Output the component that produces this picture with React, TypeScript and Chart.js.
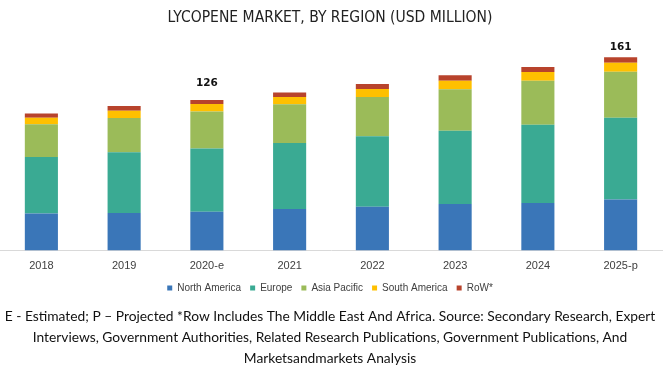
import React, { useEffect, useRef } from "react";
import { Chart, registerables } from "chart.js";

Chart.register(...registerables);

const categories = ["2018", "2019", "2020-e", "2021", "2022", "2023", "2024", "2025-p"];
const northAmerica = [30.8, 31.3, 32.4, 34.6, 36.6, 38.8, 39.6, 42.5];
const europe = [47.4, 50.9, 52.8, 55.3, 58.9, 61.2, 65.4, 68.4];
const asiaPacific = [27.4, 28.5, 31.0, 32.4, 32.9, 34.7, 36.9, 38.6];
const southAmerica = [5.3, 6.1, 6.2, 6.1, 6.5, 7.2, 7.3, 7.5];
const restOfWorld = [3.7, 3.9, 3.4, 3.7, 4.2, 4.5, 4.2, 4.5];
const totalLabels = ["", "", "126", "", "", "", "", "161"];

const seriesNames = ["North America", "Europe", "Asia Pacific", "South America", "RoW*"];
const seriesColors = ["#3a76b8", "#3aaa93", "#9bbb59", "#ffc000", "#b8432c"];

const titleText = "LYCOPENE MARKET, BY REGION (USD MILLION)";
const footnoteLines = [
  "E - Estimated; P \u2013 Projected *Row Includes The Middle East And Africa. Source: Secondary Research, Expert",
  "Interviews, Government Authorities, Related Research Publications, Government Publications, And",
  "Marketsandmarkets Analysis",
];

const totalLabelPlugin = {
  id: "totalLabels",
  afterDatasetsDraw(chart: any, _args: any, opts: any) {
    const ctx = chart.ctx;
    const lastIndex = chart.data.datasets.length - 1;
    const meta = chart.getDatasetMeta(lastIndex);
    ctx.save();
    ctx.font = "bold 10.5px 'DejaVu Sans', Verdana, sans-serif";
    ctx.fillStyle = "#111";
    ctx.textAlign = "center";
    ctx.textBaseline = "middle";
    totalLabels.forEach((label, i) => {
      if (!label) return;
      const el = meta.data[i];
      const off = (opts.offsets && opts.offsets[i]) || 12;
      ctx.fillText(label, el.x, el.y - off);
    });
    ctx.restore();
  },
};

export default function App() {
  const canvasRef = useRef<HTMLCanvasElement | null>(null);

  useEffect(() => {
    if (!canvasRef.current) return;
    const seriesData = [northAmerica, europe, asiaPacific, southAmerica, restOfWorld];
    const chart = new Chart(canvasRef.current, {
      type: "bar",
      data: {
        labels: categories,
        datasets: seriesData.map((d, i) => ({
          label: seriesNames[i],
          data: d,
          backgroundColor: seriesColors[i],
          borderWidth: 0,
          barPercentage: 0.4,
          categoryPercentage: 1,
        })),
      },
      options: {
        animation: false,
        responsive: true,
        maintainAspectRatio: false,
        layout: { padding: { left: -2, right: 9, top: 0, bottom: 0 } },
        scales: {
          x: {
            stacked: true,
            grid: { display: false },
            border: { display: true, color: "#d9d9d9", width: 1 },
            ticks: {
              color: "#404040",
              font: { family: "'Liberation Sans', Arial, sans-serif", size: 11 },
              padding: 1,
            },
            afterFit(scale: any) {
              scale.height = 23.6;
            },
          },
          y: {
            stacked: true,
            display: false,
            min: 0,
            max: 179,
          },
        },
        plugins: {
          tooltip: { enabled: false },
          title: {
            display: true,
            text: titleText,
            color: "#222",
            font: { family: "'Liberation Sans Narrow', 'DejaVu Sans Condensed', 'Roboto Condensed', 'Liberation Sans', sans-serif", size: 15.5, weight: "normal", lineHeight: 1.2 },
            padding: { top: 9, bottom: 8.8 },
          },
          subtitle: {
            display: true,
            position: "bottom",
            text: footnoteLines,
            color: "#111",
            font: { family: "Lato, 'Open Sans', sans-serif", size: 13.8, lineHeight: 21 / 13.8 },
            padding: { top: 3, bottom: 2 },
          },
          legend: {
            display: true,
            position: "bottom",
            labels: {
              boxWidth: 5,
              boxHeight: 5,
              padding: 9,
              color: "#404040",
              font: { family: "'Liberation Sans', Arial, sans-serif", size: 10 },
            },
          },
          totalLabels: { offsets: { 2: 17, 7: 10 } },
        } as any,
      },
      plugins: [totalLabelPlugin],
    });
    return () => chart.destroy();
  }, []);

  return (
    <div style={{ position: "fixed", left: 0, top: 0, width: 671, height: 371, background: "#fff" }}>
      <canvas ref={canvasRef} />
    </div>
  );
}
